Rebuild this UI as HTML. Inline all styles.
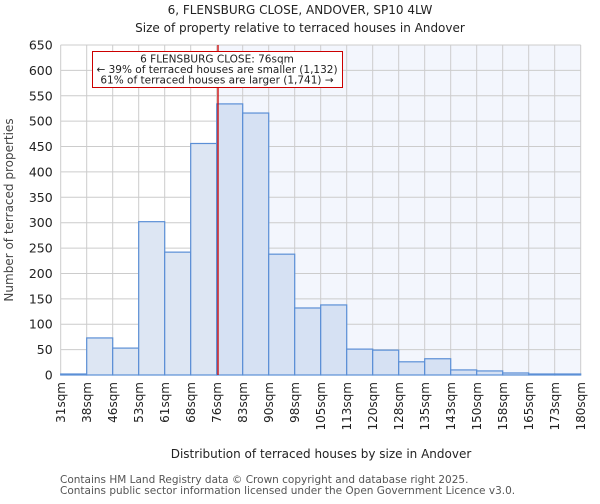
<!DOCTYPE html>
<html><head><meta charset="utf-8"><style>
body{margin:0;background:#fff;font-family:"DejaVu Sans","Liberation Sans",sans-serif}
svg text{font-family:"DejaVu Sans","Liberation Sans",sans-serif}
</style></head><body>
<svg id="c" width="600" height="500">
<text x="300" y="14" text-anchor="middle" font-size="12" fill="#222">6, FLENSBURG CLOSE, ANDOVER, SP10 4LW</text>
<text x="300" y="32" text-anchor="middle" font-size="12" fill="#222">Size of property relative to terraced houses in Andover</text>
<g id="plot"></g>
<text x="321" y="458" text-anchor="middle" font-size="12" fill="#222">Distribution of terraced houses by size in Andover</text>
<text transform="translate(13,210) rotate(-90)" text-anchor="middle" font-size="12" fill="#444">Number of terraced properties</text>
<text x="60" y="483" font-size="10.5" fill="#555">Contains HM Land Registry data © Crown copyright and database right 2025.</text>
<text x="60" y="494" font-size="10.5" fill="#555">Contains public sector information licensed under the Open Government Licence v3.0.</text>
</svg>
<script>
const categories=["31sqm","38sqm","46sqm","53sqm","61sqm","68sqm","76sqm","83sqm","90sqm","98sqm","105sqm","113sqm","120sqm","128sqm","135sqm","143sqm","150sqm","158sqm","165sqm","173sqm","180sqm"];
const counts=[2,73,53,302,242,456,534,516,238,132,138,51,49,26,32,10,8,4,2,2];
const yTicks=[0,50,100,150,200,250,300,350,400,450,500,550,600,650];
const markerIndex=6.05;
const NS="http://www.w3.org/2000/svg";
const L=60.7,R=580.7,T=45,B=375,yMax=650;
const bw=(R-L)/counts.length;
const xs=i=>L+i*bw, ys=v=>B-(v/yMax)*(B-T);
const g=document.getElementById('plot');
function mk(t,a,p){const e=document.createElementNS(NS,t);for(const k in a)e.setAttribute(k,a[k]);(p||g).appendChild(e);return e;}
const mx=xs(markerIndex);
let bg=mk('rect',{x:L,y:T,width:R-L,height:B-T,fill:'#fff'});


let hl=mk('rect',{x:mx,y:T,width:R-mx,height:B-T,fill:'#f3f6fd'});


for(let i=0;i<=counts.length;i++){
 let l=mk('line',{x1:xs(i),x2:xs(i),y1:T,y2:B,stroke:'#ccc','stroke-width':1});
 
 
}
yTicks.forEach(v=>{
 let l=mk('line',{x1:L,x2:R,y1:ys(v),y2:ys(v),stroke:'#ccc','stroke-width':1});
 
 
 let t=mk('text',{x:L-8,y:ys(v)+4.5,'text-anchor':'end','font-size':12.5,fill:'#222'});
 t.textContent=v;
 
 
});
counts.forEach((v,i)=>{
 let r=mk('rect',{x:xs(i),y:ys(v),width:bw,height:B-ys(v),fill:(i+0.5<markerIndex)?'#dde6f3':'#d6e1f3',stroke:'#5b8fd6','stroke-width':1.2});
 
 
});
categories.forEach((c,i)=>{
 let t=mk('text',{transform:`translate(${xs(i)+4.5},382) rotate(-90)`,'text-anchor':'end','font-size':12,fill:'#222'});
 t.textContent=c;
 
 
});
let ml=mk('line',{x1:mx,x2:mx,y1:T,y2:B,stroke:'#cc0000','stroke-width':1.3});


let box=mk('rect',{x:92.5,y:51.5,width:250,height:36,fill:'#fff',stroke:'#cc0000','stroke-width':1});


["6 FLENSBURG CLOSE: 76sqm","← 39% of terraced houses are smaller (1,132)","61% of terraced houses are larger (1,741) →"].forEach((s,i)=>{
 let t=mk('text',{x:217,y:62.5+i*10.5,'text-anchor':'middle','font-size':10.5,fill:'#222'});
 t.textContent=s;
 
 
});
</script>
</body></html>
